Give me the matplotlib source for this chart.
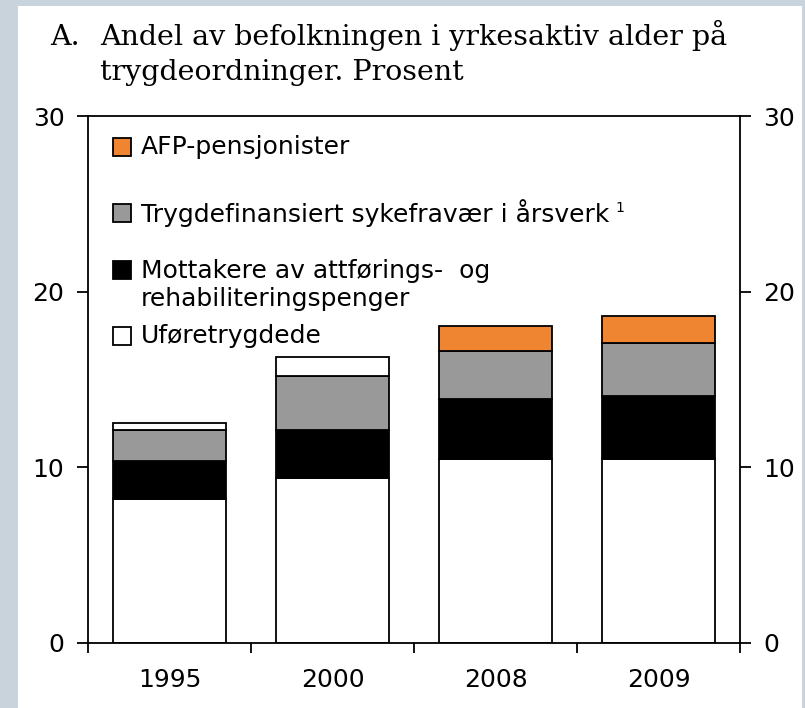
import numpy as np
import matplotlib.pyplot as plt
from matplotlib.patches import Rectangle

years = ['1995', '2000', '2008', '2009']
ufore = [8.2, 9.4, 10.5, 10.5]          # Uføretrygdede
attforing = [2.15, 2.75, 3.4, 3.55]      # Mottakere av attførings- og rehabiliteringspenger
sykefravaer = [1.75, 3.05, 2.75, 3.0]    # Trygdefinansiert sykefravær i årsverk
afp = [0.4, 1.1, 1.4, 1.55]              # AFP-pensjonister

orange = '#ef8530'
grey = '#999999'
afp_colors = ['white', 'white', orange, orange]

fig = plt.figure(figsize=(8.05, 7.08), dpi=100)
fig.patch.set_facecolor('#c9d3db')
fig.add_artist(Rectangle((18/805, 0), (802-18)/805, 1-6/708, transform=fig.transFigure,
                         facecolor='white', edgecolor='none', zorder=0))

ax = fig.add_axes([88/805, 1-643/708, 652/805, (643-116)/708])
ax.set_facecolor('white')

x = np.arange(len(years))
w = 0.69
kw = dict(width=w, edgecolor='black', linewidth=1.3)
b1 = np.array(ufore)
b2 = b1 + np.array(attforing)
b3 = b2 + np.array(sykefravaer)
ax.bar(x, ufore, color='white', **kw)
ax.bar(x, attforing, bottom=b1, color='black', **kw)
ax.bar(x, sykefravaer, bottom=b2, color=grey, **kw)
ax.bar(x, afp, bottom=b3, color=afp_colors, **kw)

ax.set_xlim(-0.5, 3.5)
ax.set_ylim(0, 30)
for s in ax.spines.values():
    s.set_linewidth(1.3)

ax.set_yticks([0, 10, 20, 30])
ax.tick_params(axis='y', which='both', direction='out', length=8, width=1.3,
               left=True, right=True, labelleft=True, labelright=True,
               labelsize=18, pad=9)
ax.set_xticks(np.arange(-0.5, 4, 1))
ax.set_xticklabels([])
ax.set_xticks(x, minor=True)
ax.set_xticklabels(years, minor=True)
ax.tick_params(axis='x', which='major', direction='out', length=7, width=1.3)
ax.tick_params(axis='x', which='minor', length=0, labelsize=18, pad=18)

# legend drawn by hand
sq_x, sq_w, sq_h = (113-88)/652, 18/652, 18/527
txt_x = (141-88)/652
entries = [
    (orange, 'AFP-pensjonister', 147, 147),
    (grey, 'Trygdefinansiert sykefravær i årsverk', 213, 213),
    ('black', 'Mottakere av attførings-  og\nrehabiliteringspenger', 270, 285),
    ('white', 'Uføretrygdede', 336, 336),
]
for col, lab, ysq, ytxt in entries:
    yf = (643 - ysq) / 527
    ax.add_patch(Rectangle((sq_x, yf - sq_h/2), sq_w, sq_h, transform=ax.transAxes,
                           facecolor=col, edgecolor='black', linewidth=1.3, zorder=5))
    ax.text(txt_x, (643 - ytxt) / 527, lab, transform=ax.transAxes, fontsize=18,
            va='center', ha='left', linespacing=1.2, zorder=5)
# footnote marker
ax.text((615-88)/652, (643-208)/527, '1', transform=ax.transAxes, fontsize=10,
        va='center', ha='left', zorder=5)

fig.text(50/805, 1-45/708, 'A.', family='DejaVu Serif', fontsize=20.5, va='baseline')
fig.text(100/805, 1-45/708, 'Andel av befolkningen i yrkesaktiv alder på',
         family='DejaVu Serif', fontsize=20.5, va='baseline')
fig.text(100/805, 1-80/708, 'trygdeordninger. Prosent',
         family='DejaVu Serif', fontsize=20.5, va='baseline')

fig.savefig('out.png', dpi=100, facecolor=fig.get_facecolor())
